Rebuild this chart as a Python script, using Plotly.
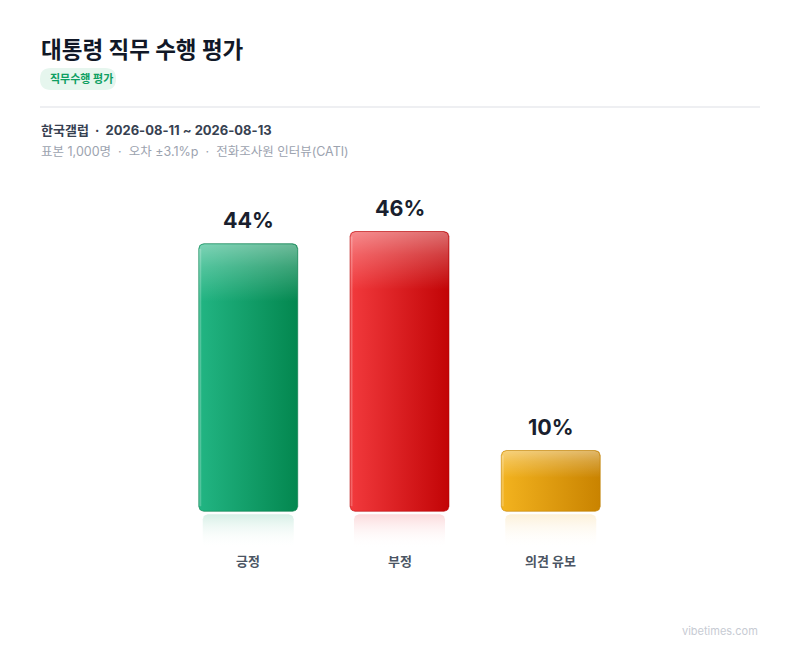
import numpy as np
import plotly.graph_objects as go

# Data
categories = ["긍정", "부정", "의견 유보"]
values = [44, 46, 10]
left_colors = ["#22b583", "#f23a3d", "#f3b31f"]
right_colors = ["#03874f", "#c20406", "#c98300"]
edge_colors = ["rgba(3,120,70,0.55)", "rgba(180,4,6,0.55)", "rgba(190,125,0,0.55)"]
reflect_colors = ["rgba(16,163,108,0.17)", "rgba(235,40,45,0.17)", "rgba(240,170,30,0.17)"]

title = "대통령 직무 수행 평가"
badge = "직무수행 평가"
source = "한국갤럽  ·  2026-08-11 ~ 2026-08-13"
detail = "표본 1,000명  ·  오차 ±3.1%p  ·  전화조사원 인터뷰(CATI)"
watermark = "vibetimes.com"

# page body adds an 8px margin, so the figure is a bit smaller and coords are shifted
OFF = 8
W, H = 800 - OFF, 652 - OFF
FONT = "Inter, 'Noto Sans CJK KR', sans-serif"

# plot area in page pixels
px_l, px_r = 97, 702
px_t, px_b = 195, 560
y_min, y_max = -8, 52
x_min, x_max = -1, 3
sx = (px_r - px_l) / (x_max - x_min)   # px per x unit
sy = (px_b - px_t) / (y_max - y_min)   # px per y unit

half_w = 49.5 / sx
rx, ry = 5 / sx, 5 / sy


def rounded_rect(x0, x1, y0, y1, rx, ry, top_only=False):
    # polygon for a rectangle with rounded corners
    t = np.linspace(0, np.pi / 2, 8)
    xs, ys = [], []
    xs += list(x1 - rx + rx * np.sin(t)); ys += list(y1 - ry + ry * np.cos(t))
    if top_only:
        xs += [x1, x0]; ys += [y0, y0]
    else:
        xs += list(x1 - rx + rx * np.cos(t)); ys += list(y0 + ry - ry * np.sin(t))
        xs += list(x0 + rx - rx * np.sin(t)); ys += list(y0 + ry - ry * np.cos(t))
    xs += list(x0 + rx - rx * np.cos(t)); ys += list(y1 - ry + ry * np.sin(t))
    xs.append(xs[0]); ys.append(ys[0])
    return xs, ys


fig = go.Figure()

for i, (cat, v) in enumerate(zip(categories, values)):
    x0, x1 = i - half_w, i + half_w
    # reflection
    rxs, rys = rounded_rect(x0 + 4 / sx, x1 - 4 / sx, -37 / sy, -3 / sy, rx, ry)
    fig.add_trace(go.Scatter(
        x=rxs, y=rys, mode="lines", fill="toself", line=dict(width=0),
        fillgradient=dict(type="vertical", start=-37 / sy, stop=-3 / sy,
                          colorscale=[[0, "rgba(255,255,255,0)"], [1, reflect_colors[i]]]),
        hoverinfo="skip", showlegend=False))
    # bar body
    bxs, bys = rounded_rect(x0, x1, 0, v, rx, ry)
    fig.add_trace(go.Scatter(
        x=bxs, y=bys, mode="lines", fill="toself",
        line=dict(width=1, color=edge_colors[i]),
        fillgradient=dict(type="horizontal", start=x0, stop=x1,
                          colorscale=[[0, left_colors[i]], [1, right_colors[i]]]),
        name=cat, hovertemplate=f"{cat}: {v}%<extra></extra>", showlegend=False))
    # gloss on top
    g_h = min(58 / sy, v * 0.45)
    gxs, gys = rounded_rect(x0 + 0.5 / sx, x1 - 0.5 / sx, v - g_h, v - 0.5 / sy, rx, ry, top_only=True)
    fig.add_trace(go.Scatter(
        x=gxs, y=gys, mode="lines", fill="toself", line=dict(width=0),
        fillgradient=dict(type="vertical", start=v - g_h, stop=v,
                          colorscale=[[0, "rgba(255,255,255,0)"], [0.6, "rgba(255,255,255,0.22)"],
                                      [1, "rgba(255,255,255,0.42)"]]),
        hoverinfo="skip", showlegend=False))
    # left edge highlight
    fig.add_trace(go.Scatter(
        x=[x0 + 1.5 / sx, x0 + 1.5 / sx], y=[ry, v - ry], mode="lines",
        line=dict(width=2, color="rgba(255,255,255,0.22)"),
        hoverinfo="skip", showlegend=False))
    # value label
    fig.add_annotation(x=i, y=v, text=f"<b>{v}%</b>", showarrow=False,
                       yanchor="bottom", yshift=9,
                       font=dict(family=FONT, size=21.5, color="#1a1f2e"))
    # category label
    fig.add_annotation(x=i, y=0, text=f"<b>{cat}</b>", showarrow=False,
                       yanchor="middle", yshift=-50,
                       font=dict(family=FONT, size=13, color="#4b5563"))


def py(p):
    return 1 - (p - OFF) / H


def pxx(p):
    return (p - OFF) / W


shapes = []
# soft bottom background gradient (stacked faint bands)
n = 25
for k in range(n):
    y_top = 568 + k * (652 - 568) / n
    shapes.append(dict(type="rect", xref="paper", yref="paper", layer="below",
                       x0=-0.02, x1=1, y0=0, y1=py(y_top), line=dict(width=0),
                       fillcolor="rgba(236,239,245,0.02)"))
# divider
shapes.append(dict(type="line", xref="paper", yref="paper",
                   x0=pxx(40), x1=pxx(760), y0=py(107), y1=py(107),
                   line=dict(color="#e8eaee", width=1.5)))
# badge pill
shapes.append(dict(type="path", xref="paper", yref="paper", layer="below",
                   path=(f"M {pxx(51)} {py(68)} L {pxx(105)} {py(68)} "
                         f"Q {pxx(116)} {py(68)} {pxx(116)} {py(79)} "
                         f"Q {pxx(116)} {py(90)} {pxx(105)} {py(90)} "
                         f"L {pxx(51)} {py(90)} "
                         f"Q {pxx(40)} {py(90)} {pxx(40)} {py(79)} "
                         f"Q {pxx(40)} {py(68)} {pxx(51)} {py(68)} Z"),
                   fillcolor="#e6f6ee", line=dict(width=0)))

texts = [
    dict(x=pxx(39), y=py(50), text=f"<b>{title}</b>", size=22.5, color="#111827"),
    dict(x=pxx(48), y=py(79), text=f"<b>{badge}</b>", size=11, color="#0e9f62"),
    dict(x=pxx(39), y=py(130), text=f"<b>{source}</b>", size=13, color="#374151"),
    dict(x=pxx(39), y=py(151), text=detail, size=12.5, color="#9ca3af"),
]
for t in texts:
    fig.add_annotation(xref="paper", yref="paper", x=t["x"], y=t["y"], text=t["text"],
                       showarrow=False, xanchor="left", yanchor="middle",
                       font=dict(family=FONT, size=t["size"], color=t["color"]))
fig.add_annotation(xref="paper", yref="paper", x=pxx(760), y=py(631), text=watermark,
                   showarrow=False, xanchor="right", yanchor="middle",
                   font=dict(family=FONT, size=11, color="#c7cbd3"))

fig.update_layout(
    width=W, height=H,
    margin=dict(l=0, r=0, t=0, b=0),
    paper_bgcolor="white", plot_bgcolor="rgba(0,0,0,0)",
    shapes=shapes,
    xaxis=dict(domain=[pxx(px_l), pxx(px_r)], range=[x_min, x_max], visible=False, fixedrange=True),
    yaxis=dict(domain=[py(px_b), py(px_t)], range=[y_min, y_max], visible=False, fixedrange=True),
    font=dict(family=FONT),
)

fig.write_html("out.html")
